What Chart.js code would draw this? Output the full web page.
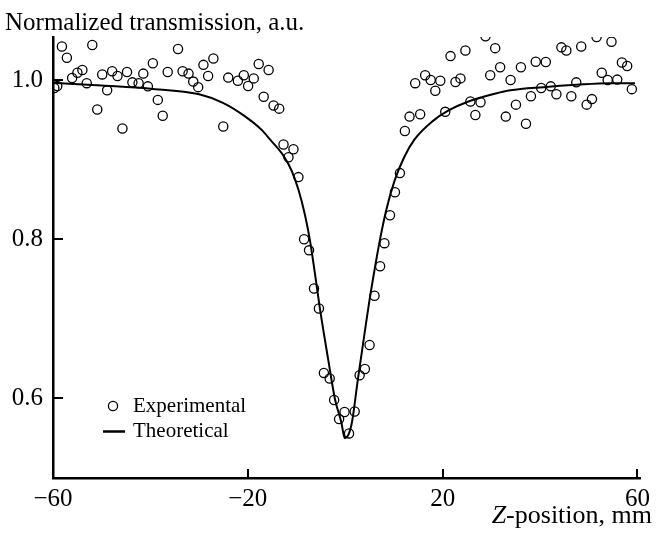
<!DOCTYPE html>
<html>
<head>
<meta charset="utf-8">
<script src="https://cdn.jsdelivr.net/npm/chart.js@4/dist/chart.umd.min.js"></script>
<style>
  html, body { margin: 0; padding: 0; background: #fff; }
  #wrap { width: 656px; height: 538px; position: relative; }
</style>
</head>
<body>
<div id="wrap"><canvas id="zscan"></canvas></div>
<script>
// experimental points, Z-position (mm) and normalized transmission
const expX = [
  -59.73, -59.12, -58.17, -57.15, -56.07, -54.99, -53.97, -53.07, -51.93, -50.91,
  -49.89, -48.88, -47.86, -46.76, -45.74, -44.80, -43.70, -42.42, -41.46, -40.52,
  -39.50, -38.48, -37.47, -36.45, -34.33, -33.39, -32.17, -31.21, -30.19, -29.11,
  -28.15, -27.07, -25.04, -24.02, -22.04, -20.82, -19.94, -18.78, -17.76, -16.74,
  -15.73, -14.71, -13.55, -12.67, -11.65, -10.63, -9.61, -8.45, -7.43, -6.41,
  -5.40, -4.38, -3.19, -2.28, -1.26, -0.14, 0.78, 1.94, 2.96, 4.04,
  5.00, 6.01, 7.16, 8.05, 9.19, 10.21, 11.23, 12.25, 13.21, 14.37,
  15.39, 16.41, 17.55, 18.50, 19.52, 20.54, 21.62, 22.64, 23.66, 24.68,
  25.70, 26.72, 27.78, 28.80, 29.77, 30.79, 31.81, 32.97, 33.95, 35.05,
  36.07, 37.11, 38.13, 39.12, 40.24, 41.18, 42.20, 43.36, 44.38, 45.40,
  46.42, 47.44, 48.46, 49.58, 50.66, 51.61, 52.67, 53.89, 54.67, 55.85,
  56.81, 57.89, 58.85
];
const expY = [
  0.990, 0.9925, 1.042, 1.028, 1.0025, 1.009, 1.0125, 0.996, 1.044, 0.963,
  1.007, 0.987, 1.011, 1.005, 0.939, 1.010, 0.997, 0.996, 1.008, 0.992,
  1.021, 0.975, 0.955, 1.010, 1.039, 1.011, 1.008, 0.998, 0.991, 1.019,
  1.005, 1.027, 0.9415, 1.003, 0.999, 1.006, 0.9925, 1.002, 1.020, 0.979,
  1.0125, 0.968, 0.964, 0.919, 0.903, 0.913, 0.878, 0.800, 0.786, 0.738,
  0.713, 0.632, 0.625, 0.598, 0.574, 0.583, 0.556, 0.5835, 0.629, 0.637,
  0.667, 0.729, 0.766, 0.795, 0.830, 0.859, 0.883, 0.936, 0.954, 0.996,
  0.957, 1.006, 1.000, 0.9865, 0.999, 0.960, 1.030, 0.9975, 1.002, 1.037,
  0.973, 0.956, 0.972, 1.055, 1.006, 1.040, 1.016, 0.954, 1.000, 0.969,
  1.016, 0.945, 0.9795, 1.023, 0.990, 1.0225, 0.992, 0.982, 1.041, 1.037,
  0.9795, 0.997, 1.042, 0.969, 0.976, 1.054, 1.009, 1.000, 1.048, 1.0005,
  1.022, 1.0175, 0.9885
];

// theoretical curve
const theoX = [-60, -50, -40, -30, -25, -20.5, -17.1, -15.4, -12.7, -11.0, -9.6, -8.25, -7.2, -6.2, -5.2,
  -3.5, -2.1, -0.8, -0.1, 1.25, 2.6, 4.0, 5.0, 5.7, 7.0, 8.4, 10.1, 12.1, 14.2, 17.9, 21.3, 25.3,
  30.9, 33.9, 40.7, 47.5, 54.2, 59.5];
const theoY = [0.9966, 0.993, 0.989, 0.982, 0.971, 0.954, 0.937, 0.925, 0.905, 0.886, 0.862, 0.830, 0.797, 0.756, 0.713,
  0.649, 0.599, 0.570, 0.550, 0.566, 0.624, 0.683, 0.724, 0.750, 0.795, 0.836, 0.873, 0.903, 0.925, 0.948, 0.962, 0.973,
  0.983, 0.987, 0.991, 0.994, 0.996, 0.996];

const xTicks = [-60, -20, 20, 60];
const yTicks = [0.6, 0.8, 1.0];
const seriesNames = ['Experimental', 'Theoretical'];
const yTitle = 'Normalized transmission, a.u.';
const xTitleItalic = 'Z';
const xTitleRest = '-position, mm';

const FONT = "'Liberation Serif', 'Times New Roman', serif";

// inward ticks, axis titles and the in-plot legend
const decorations = {
  id: 'decorations',
  afterDraw(chart) {
    const { ctx, chartArea, scales: { x, y } } = chart;
    ctx.save();
    ctx.strokeStyle = '#000';
    ctx.lineWidth = 2;
    ctx.beginPath();
    xTicks.forEach(v => {
      const px = Math.round(x.getPixelForValue(v));
      ctx.moveTo(px, chartArea.bottom);
      ctx.lineTo(px, chartArea.bottom - 9);
    });
    yTicks.forEach(v => {
      const py = Math.round(y.getPixelForValue(v));
      ctx.moveTo(chartArea.left, py);
      ctx.lineTo(chartArea.left + 10, py);
    });
    ctx.stroke();

    ctx.fillStyle = '#000';
    ctx.textBaseline = 'alphabetic';
    ctx.textAlign = 'left';
    ctx.font = '25px ' + FONT;
    ctx.fillText(yTitle, 5, 30);

    ctx.font = '26px ' + FONT;
    const restW = ctx.measureText(xTitleRest).width;
    ctx.font = 'italic 26px ' + FONT;
    const zW = ctx.measureText(xTitleItalic).width;
    const xEnd = 652;
    ctx.fillText(xTitleItalic, xEnd - restW - zW, 523);
    ctx.font = '26px ' + FONT;
    ctx.fillText(xTitleRest, xEnd - restW, 523);

    // legend
    ctx.font = '21px ' + FONT;
    ctx.textBaseline = 'middle';
    ctx.lineWidth = 1.3;
    ctx.beginPath();
    ctx.arc(113, 406, 4.6, 0, Math.PI * 2);
    ctx.stroke();
    ctx.fillText(seriesNames[0], 133, 406);
    ctx.lineWidth = 2.5;
    ctx.beginPath();
    ctx.moveTo(103, 431.5);
    ctx.lineTo(125, 431.5);
    ctx.stroke();
    ctx.fillText(seriesNames[1], 133, 431);
    ctx.restore();
  }
};

const fmtX = v => (v < 0 ? '\u2212' + Math.abs(v) : String(v));

new Chart(document.getElementById('zscan'), {
  type: 'scatter',
  data: {
    datasets: [
      {
        label: seriesNames[0],
        data: expX.map((v, i) => ({ x: v, y: expY[i] })),
        showLine: false,
        pointStyle: 'circle',
        pointRadius: 4.6,
        pointBorderWidth: 1.3,
        pointBorderColor: '#000',
        pointBackgroundColor: 'rgba(0,0,0,0)',
        clip: 0
      },
      {
        label: seriesNames[1],
        data: theoX.map((v, i) => ({ x: v, y: theoY[i] })),
        showLine: true,
        pointRadius: 0,
        borderColor: '#000',
        borderWidth: 2,
        cubicInterpolationMode: 'monotone',
        fill: false
      }
    ]
  },
  options: {
    responsive: true,
    maintainAspectRatio: false,
    animation: false,
    layout: { padding: { left: 0, right: 11, top: 37, bottom: 0 } },
    plugins: {
      legend: { display: false },
      tooltip: { enabled: false },
      title: { display: false }
    },
    scales: {
      x: {
        type: 'linear',
        min: -60,
        max: 60.6,
        afterFit: s => { s.height = 60; },
        afterBuildTicks: s => { s.ticks = xTicks.map(v => ({ value: v })); },
        grid: { display: true, drawOnChartArea: false, drawTicks: false },
        border: { display: true, color: '#000', width: 2.5 },
        ticks: {
          padding: 6,
          color: '#000',
          font: { family: FONT, size: 25 },
          maxRotation: 0,
          callback: v => fmtX(v)
        }
      },
      y: {
        type: 'linear',
        min: 0.5,
        max: 1.054,
        afterFit: s => { s.width = 53; },
        afterBuildTicks: s => { s.ticks = yTicks.map(v => ({ value: v })); },
        grid: { display: true, drawOnChartArea: false, drawTicks: false },
        border: { display: true, color: '#000', width: 2.5 },
        ticks: {
          padding: 10,
          color: '#000',
          font: { family: FONT, size: 25 },
          callback: v => v.toFixed(1)
        }
      }
    }
  },
  plugins: [decorations]
});
</script>
</body>
</html>
